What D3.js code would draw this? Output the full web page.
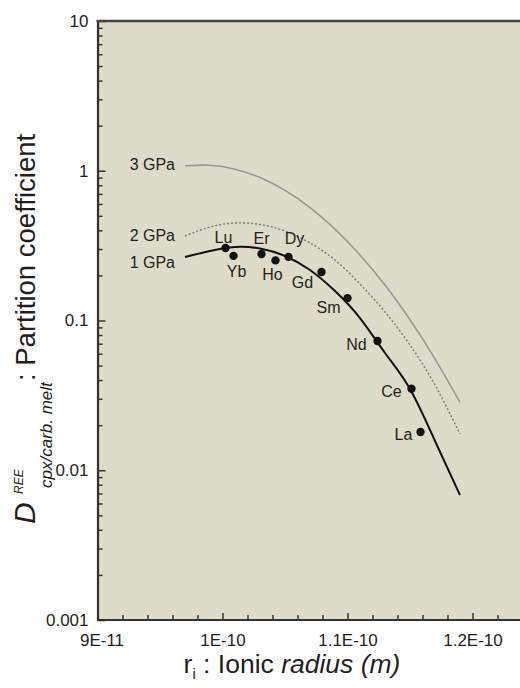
<!DOCTYPE html>
<html>
<head>
<meta charset="utf-8">
<script src="https://cdn.jsdelivr.net/npm/d3@7"></script>
<style>
  html, body { margin: 0; padding: 0; background: #fff; }
  svg { display: block; font-family: "Liberation Sans", Arial, Helvetica, sans-serif; }
</style>
</head>
<body>
<svg id="chart" width="520" height="688"></svg>
<script>
// Rare-earth element partitioning between clinopyroxene and carbonatite melt
const reeNames = ["Lu", "Yb", "Er", "Ho", "Dy", "Gd", "Sm", "Nd", "Ce", "La"];
const reeRadius = [1.0024e-10, 1.0088e-10, 1.0312e-10, 1.0424e-10, 1.0528e-10, 1.0792e-10, 1.1e-10, 1.124e-10, 1.1512e-10, 1.1584e-10];
const reeD = [0.305, 0.27, 0.278, 0.252, 0.266, 0.211, 0.141, 0.073, 0.035, 0.018];

// Lattice-strain fits at three pressures, sampled along the ionic radius
const fitRadius = [0.97e-10, 0.99e-10, 1.01e-10, 1.03e-10, 1.05e-10, 1.07e-10, 1.09e-10, 1.11e-10, 1.13e-10, 1.15e-10, 1.17e-10, 1.19e-10];
const fit3D = [1.079, 1.087, 1.023, 0.900, 0.739, 0.568, 0.408, 0.274, 0.1724, 0.1011, 0.0555, 0.0284];
const fit2D = [0.3667, 0.4211, 0.4477, 0.4376, 0.3960, 0.3292, 0.2535, 0.1753, 0.1140, 0.0686, 0.0371, 0.01746];
const fit1D = [0.2655, 0.2911, 0.3095, 0.3025, 0.2696, 0.2174, 0.1574, 0.1039, 0.0607, 0.03487, 0.01568, 0.00683];
const fitLabels = ["3 GPa", "2 GPa", "1 GPa"];

// Axis ticks
const xMajorTicks = [9e-11, 1e-10, 1.1e-10, 1.2e-10];
const xTickLabels = ["9E-11", "1E-10", "1.1E-10", "1.2E-10"];
const yMajorTicks = [0.001, 0.01, 0.1, 1, 10];
const yTickLabels = ["0.001", "0.01", "0.1", "1", "10"];

// Label placement relative to each point (text anchor = middle, baseline)
const reeLabelOffset = {
  Lu: [-2, -5], Yb: [3, 21], Er: [0, -10], Ho: [-3, 20], Dy: [6, -13],
  Gd: [-19, 16], Sm: [-19, 15], Nd: [-21, 9], Ce: [-20, 8], La: [-17, 8]
};
// Baseline shift of each curve label relative to the curve start
const fitLabelShift = [4, 5, 11];

const svg = d3.select("#chart");
const plotLeft = 97.5, plotRight = 520, plotTop = 21, plotBottom = 620;

const x = d3.scaleLinear().domain([9e-11, 1.24e-10]).range([plotLeft, plotLeft + 425]);
const y = d3.scaleLog().domain([0.001, 10]).range([plotBottom, plotTop]);

const ink = "#231f20";

// Plot background
svg.append("rect")
  .attr("x", plotLeft).attr("y", plotTop)
  .attr("width", plotRight - plotLeft).attr("height", plotBottom - plotTop)
  .attr("fill", "#dddcc8");

// Fitted curves
const line = d3.line()
  .x(d => x(d[0])).y(d => y(d[1]))
  .curve(d3.curveNatural);

const fits = [
  { d: fit3D, stroke: "#979797", width: 1.6, dash: null },
  { d: fit2D, stroke: "#7a7a7a", width: 1.4, dash: "2,2" },
  { d: fit1D, stroke: "#111111", width: 2, dash: null }
];

fits.forEach((f, i) => {
  const pts = fitRadius.map((r, k) => [r, f.d[k]]);
  svg.append("path")
    .attr("d", line(pts))
    .attr("fill", "none")
    .attr("stroke", f.stroke)
    .attr("stroke-width", f.width)
    .attr("stroke-dasharray", f.dash);
  svg.append("text")
    .attr("x", x(fitRadius[0]) - 10)
    .attr("y", y(f.d[0]) + fitLabelShift[i])
    .attr("text-anchor", "end")
    .attr("font-size", 16)
    .attr("fill", ink)
    .text(fitLabels[i]);
});

// Measured partition coefficients
const ree = reeNames.map((n, i) => ({ name: n, r: reeRadius[i], D: reeD[i] }));
svg.append("g").selectAll("circle").data(ree).join("circle")
  .attr("cx", d => x(d.r)).attr("cy", d => y(d.D))
  .attr("r", 4.2).attr("fill", "#111");
svg.append("g").selectAll("text").data(ree).join("text")
  .attr("x", d => x(d.r) + reeLabelOffset[d.name][0])
  .attr("y", d => y(d.D) + reeLabelOffset[d.name][1])
  .attr("text-anchor", "middle")
  .attr("font-size", 16)
  .attr("fill", ink)
  .text(d => d.name);

// Y axis: labelled decades plus minor ticks
const yMinor = [];
[0.001, 0.01, 0.1, 1].forEach(dec => { for (let m = 2; m <= 9; m++) yMinor.push(dec * m); });

const yAxisMinor = svg.append("g").attr("transform", `translate(${plotLeft},0)`)
  .call(d3.axisLeft(y).tickValues(yMinor).tickSizeInner(-5).tickSizeOuter(0).tickFormat(""));
yAxisMinor.select(".domain").remove();

const yAxis = svg.append("g").attr("transform", `translate(${plotLeft},0)`)
  .call(d3.axisLeft(y).tickValues(yMajorTicks).tickSizeInner(-8).tickSizeOuter(0)
    .tickPadding(9).tickFormat((d, i) => yTickLabels[i]));

// X axis: labelled ticks plus minor ticks
const xMinor = d3.range(0, 17).map(k => 9e-11 + k * 2e-12).filter(v => !xMajorTicks.some(t => Math.abs(t - v) < 1e-13));
const xAxisMinor = svg.append("g").attr("transform", `translate(0,${plotBottom})`)
  .call(d3.axisBottom(x).tickValues(xMinor).tickSizeInner(-5).tickSizeOuter(0).tickFormat(""));
xAxisMinor.select(".domain").remove();

const xAxis = svg.append("g").attr("transform", `translate(0,${plotBottom})`)
  .call(d3.axisBottom(x).tickValues(xMajorTicks).tickSizeInner(-7).tickSizeOuter(0)
    .tickFormat((d, i) => xTickLabels[i]));
xAxis.selectAll("text").attr("y", 26).attr("dy", 0);
xAxis.selectAll(".tick").filter((d, i) => i === 0).select("text").attr("x", 4);

[yAxis, yAxisMinor, xAxis, xAxisMinor].forEach(g => {
  g.selectAll(".tick line").attr("stroke", "#333").attr("stroke-width", 1.5);
  g.selectAll(".tick text").attr("font-size", 17).attr("fill", ink)
    .attr("font-family", "Liberation Sans, Arial, sans-serif");
});
yAxis.select(".domain").attr("stroke", "#333").attr("stroke-width", 2.2);
xAxis.select(".domain").attr("stroke", "#333").attr("stroke-width", 2.2)
  .attr("d", `M${plotLeft},0H${plotRight}`);

// Top frame edge
svg.append("line")
  .attr("x1", plotLeft - 1).attr("x2", plotRight)
  .attr("y1", plotTop).attr("y2", plotTop)
  .attr("stroke", "#444").attr("stroke-width", 2.5);

// X axis title
const xt = svg.append("text")
  .attr("x", 292).attr("y", 673)
  .attr("text-anchor", "middle")
  .attr("font-size", 26.5)
  .attr("fill", ink);
xt.append("tspan").text("r");
xt.append("tspan").attr("font-size", 15).attr("dy", 6).text("i");
xt.append("tspan").attr("dy", -6).text(" : Ionic ");
xt.append("tspan").attr("font-style", "italic").text("radius (m)");

// Y axis title (rotated)
const yt = svg.append("g").attr("transform", "translate(35,524) rotate(-90)");
yt.append("text").attr("x", 0).attr("y", 0)
  .attr("font-size", 30).attr("font-style", "italic").attr("fill", ink).text("D");
yt.append("text").attr("x", 30).attr("y", -12)
  .attr("font-size", 12).attr("font-style", "italic").attr("fill", ink).text("REE");
yt.append("text").attr("x", 36).attr("y", 17)
  .attr("font-size", 17).attr("font-style", "italic").attr("fill", ink).text("cpx/carb. melt");
yt.append("text").attr("x", 143).attr("y", 0)
  .attr("font-size", 27.5).attr("fill", ink).text(": Partition coefficient");
</script>
</body>
</html>
